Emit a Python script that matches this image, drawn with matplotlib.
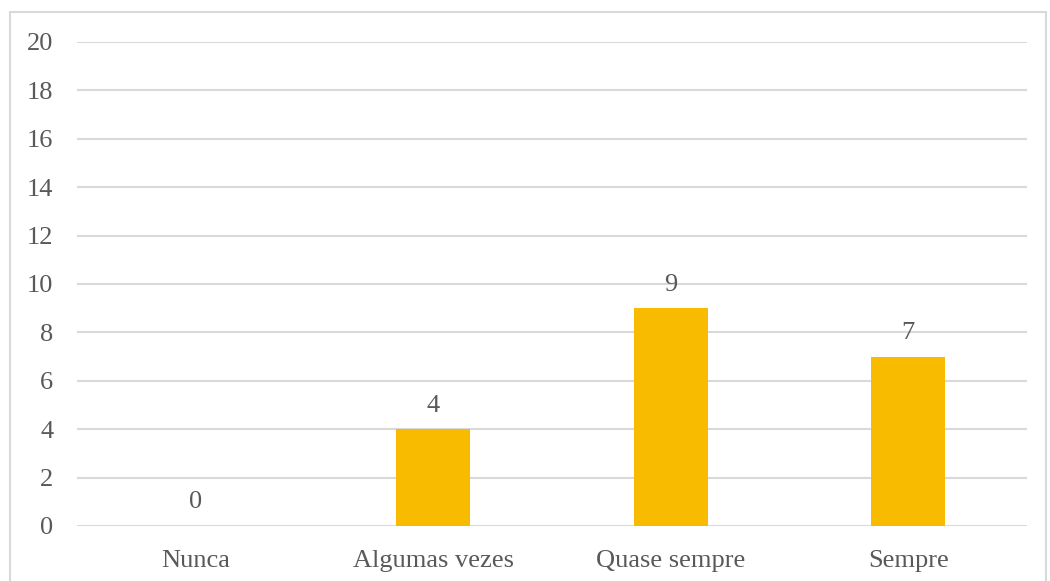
import matplotlib.pyplot as plt
from matplotlib.patches import Rectangle

categorias = ["Nunca", "Algumas vezes", "Quase sempre", "Sempre"]
valores = [0, 4, 9, 7]
yticks = list(range(0, 21, 2))

plt.rcParams['font.family'] = ['Liberation Serif', 'DejaVu Serif']
cor_texto = '#595959'
cor_grade = '#D9D9D9'
tam = 19

fig = plt.figure(figsize=(10.5, 5.81), dpi=100)
ax = fig.add_axes([77/1050, 1 - 526/581, 950/1050, 484/581])

x = range(len(categorias))
barras = ax.bar(x, valores, width=0.31, color='#F9BB00', zorder=3)

for xi, v in zip(x, valores):
    ax.annotate(str(v), (xi, v), xytext=(0, 9), textcoords='offset points',
                ha='center', va='bottom', fontsize=tam, color=cor_texto)

ax.set_xlim(-0.5, len(categorias) - 0.5)
ax.set_ylim(0, 20)
ax.set_yticks(yticks)
ax.set_xticks(list(x))
ax.set_xticklabels(categorias)
ax.yaxis.grid(True, color=cor_grade, linewidth=1.5, zorder=0)
ax.tick_params(axis='both', length=0, labelsize=tam, labelcolor=cor_texto)
ax.tick_params(axis='x', pad=17)
ax.tick_params(axis='y', pad=17)
for s in ax.spines.values():
    s.set_visible(False)

# moldura do gráfico
fig.patches.append(Rectangle((10/1050, -0.05), 1036/1050, 1.05 - 12/581,
                             transform=fig.transFigure, fill=False,
                             edgecolor='#D9D9D9', linewidth=1.5))

fig.savefig("out.png", dpi=100)
